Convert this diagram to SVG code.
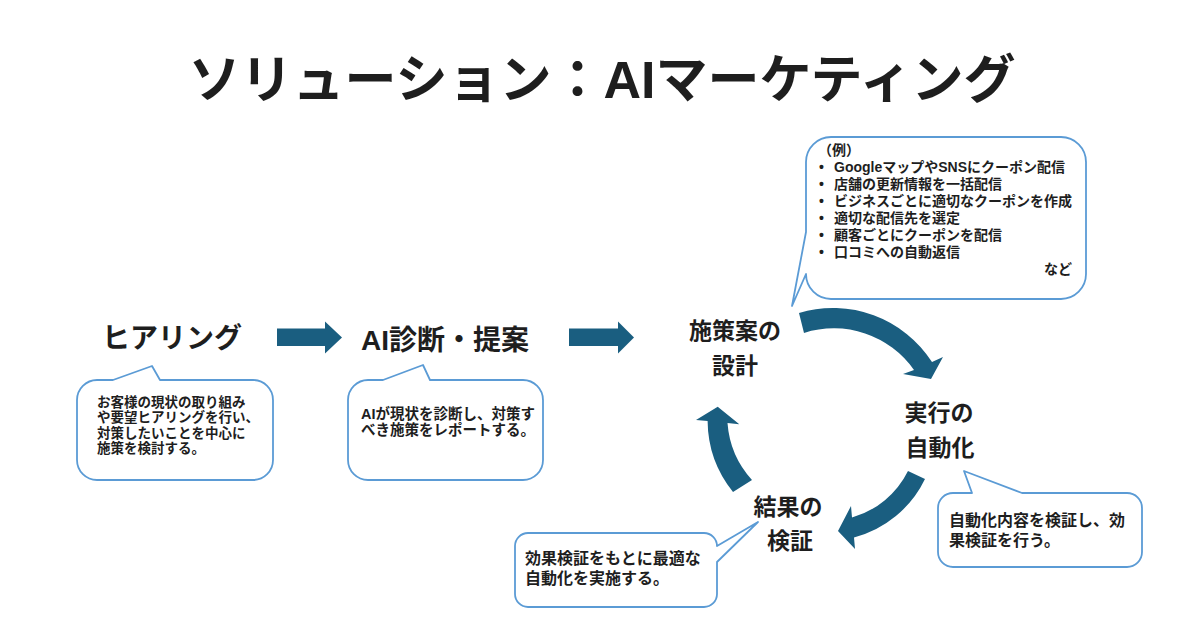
<svg xmlns="http://www.w3.org/2000/svg" width="1200" height="630" viewBox="0 0 1200 630">
<style>
text{font-family:"Liberation Sans","Noto Sans CJK JP",sans-serif;fill:#1e1e1e;font-weight:700}
.title{font-size:52px;text-anchor:middle}
.lbl{font-size:28px}
.step{font-size:23px;text-anchor:middle}
.s135{font-size:13.5px}
.s14{font-size:14px}
.s145{font-size:14.5px}
.s16{font-size:16px}
.bub{fill:#ffffff;stroke:#5b9bd5;stroke-width:1.8;stroke-linejoin:round}
.arr{fill:#1a5e80}
</style>
<rect width="1200" height="630" fill="#ffffff"/>
<text class="title" x="602" y="98">ソリューション：AIマーケティング</text>

<g id="connectors">
<polygon class="arr" points="277,328.5 325,328.5 325,321.5 342,337.5 325,353.5 325,346 277,346"/>
<polygon class="arr" points="569,328.5 618,328.5 618,321.5 634,337.5 618,353.5 618,346 569,346"/>
<path class="arr" d="M799,313 A118 118 0 0 1 932,362 L943,357 L931,379 L903,374 L914,370 A98 98 0 0 0 804,333 Z"/>
<path class="arr" d="M925,479 A110 110 0 0 1 854,537.5 L855,549 L838,531 L851,506 L852,517.5 A90 90 0 0 0 908,471 Z"/>
<path class="arr" d="M733,492 A115 115 0 0 1 707.6,421 L696,420 L717.7,406.7 L739.3,424.3 L727.5,423 A95 95 0 0 0 752,480 Z"/>
</g>

<g id="node-hearing">
<text class="lbl" x="102" y="348">ヒアリング</text>
</g>
<g id="node-ai">
<text class="lbl" x="361" y="350">AI診断・提案</text>
</g>
<g id="node-design">
<text class="step" x="735" y="339">施策案の</text>
<text class="step" x="735" y="374">設計</text>
</g>
<g id="node-auto">
<text class="step" x="939" y="421">実行の</text>
<text class="step" x="940" y="456">自動化</text>
</g>
<g id="node-verify">
<text class="step" x="788" y="515">結果の</text>
<text class="step" x="790" y="549">検証</text>
</g>

<g id="callout-examples">
<path class="bub" d="M831,137 L1061,137 A25 25 0 0 1 1086,162 L1086,274 A25 25 0 0 1 1061,299 L831,299 A25 25 0 0 1 806,274 L792,306 L806,232 L806,162 A25 25 0 0 1 831,137 Z"/>
<text class="s14" x="818" y="155.3">（例）</text>
<text class="s14" x="819" y="172.2">•</text>
<text class="s14" x="834" y="172.2">GoogleマップやSNSにクーポン配信</text>
<text class="s14" x="819" y="189.1">•</text>
<text class="s14" x="834" y="189.1">店舗の更新情報を一括配信</text>
<text class="s14" x="819" y="206">•</text>
<text class="s14" x="834" y="206">ビジネスごとに適切なクーポンを作成</text>
<text class="s14" x="819" y="222.9">•</text>
<text class="s14" x="834" y="222.9">適切な配信先を選定</text>
<text class="s14" x="819" y="239.8">•</text>
<text class="s14" x="834" y="239.8">顧客ごとにクーポンを配信</text>
<text class="s14" x="819" y="256.7">•</text>
<text class="s14" x="834" y="256.7">口コミへの自動返信</text>
<text class="s14" x="1072" y="273.6" text-anchor="end">など</text>
</g>

<g id="callout-hearing">
<path class="bub" d="M97,380 L113,380 L152,366 L160,380 L253,380 A20 20 0 0 1 273,400 L273,460 A20 20 0 0 1 253,480 L97,480 A20 20 0 0 1 77,460 L77,400 A20 20 0 0 1 97,380 Z"/>
<text class="s135" x="97" y="406.5">お客様の現状の取り組み</text>
<text class="s135" x="97" y="422">や要望ヒアリングを行い、</text>
<text class="s135" x="97" y="437.5">対策したいことを中心に</text>
<text class="s135" x="97" y="453">施策を検討する。</text>
</g>

<g id="callout-ai">
<path class="bub" d="M368,380 L383,380 L423,365 L430,380 L523,380 A20 20 0 0 1 543,400 L543,460 A20 20 0 0 1 523,480 L368,480 A20 20 0 0 1 348,460 L348,400 A20 20 0 0 1 368,380 Z"/>
<text class="s145" x="361" y="418.6">AIが現状を診断し、対策す</text>
<text class="s145" x="361" y="435.3">べき施策をレポートする。</text>
</g>

<g id="callout-auto">
<path class="bub" d="M953,493 L972,493 L964,471 L1022,493 L1127,493 A15 15 0 0 1 1142,508 L1142,552 A15 15 0 0 1 1127,567 L953,567 A15 15 0 0 1 938,552 L938,508 A15 15 0 0 1 953,493 Z"/>
<text class="s16" x="949" y="526">自動化内容を検証し、効</text>
<text class="s16" x="949" y="546">果検証を行う。</text>
</g>

<g id="callout-verify">
<path class="bub" d="M528,533 L704,533 A13 13 0 0 1 717,546 L758,522 L717,562 L717,594 A13 13 0 0 1 704,607 L528,607 A13 13 0 0 1 515,594 L515,546 A13 13 0 0 1 528,533 Z"/>
<text class="s16" x="525" y="564.4">効果検証をもとに最適な</text>
<text class="s16" x="525" y="584.4">自動化を実施する。</text>
</g>
</svg>
